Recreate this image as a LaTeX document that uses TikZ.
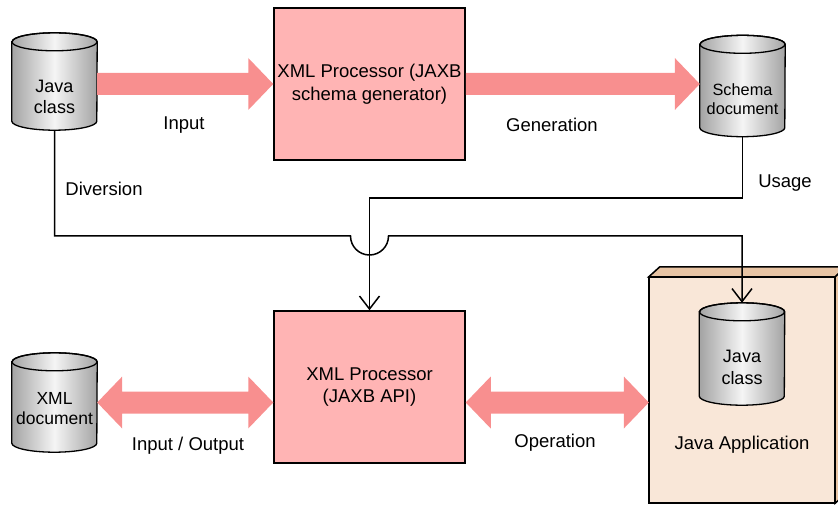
\documentclass[tikz,border=0pt]{standalone}
\usepackage{fontspec}
\setmainfont{Liberation Sans}
\usetikzlibrary{arrows.meta,calc}
\definecolor{fatc}{RGB}{248,143,143}
\definecolor{boxc}{RGB}{255,180,180}
\definecolor{appc}{RGB}{249,231,216}
\definecolor{apptop}{RGB}{232,196,164}
\newcommand\cylbody[1]{%
  \draw[line width=1.3pt, left color=black!36, right color=black!36, middle color=black!4]
    ($(#1.north west)+(0pt,-9pt)$) -- ($(#1.south west)+(0pt,9pt)$)
    arc[start angle=180,end angle=360,x radius=42.5pt,y radius=9pt]
    -- ($(#1.north east)+(0pt,-9pt)$)
    arc[start angle=0,end angle=180,x radius=42.5pt,y radius=9pt] -- cycle;
  \draw[line width=1.3pt] ($(#1.north)+(0pt,-9pt)$) ellipse[x radius=42.5pt,y radius=9pt];
}
\newcommand\fatR[2]{%
  \fill[fat] let \p1=(#1), \p2=(#2) in
    (\x1,\y1+11pt) -- (\x2-25pt,\y1+11pt) -- (\x2-25pt,\y1+26pt) -- (\x2,\y1)
    -- (\x2-25pt,\y1-26pt) -- (\x2-25pt,\y1-11pt) -- (\x1,\y1-11pt) -- cycle;
}
\newcommand\fatLR[2]{%
  \fill[fat] let \p1=(#1), \p2=(#2) in
    (\x1,\y1) -- (\x1+25pt,\y1+26pt) -- (\x1+25pt,\y1+11pt) -- (\x2-25pt,\y1+11pt)
    -- (\x2-25pt,\y1+26pt) -- (\x2,\y1) -- (\x2-25pt,\y1-26pt) -- (\x2-25pt,\y1-11pt)
    -- (\x1+25pt,\y1-11pt) -- (\x1+25pt,\y1-26pt) -- cycle;
}
\begin{document}
\begin{tikzpicture}[x=1pt,y=-1pt,
  lbl/.style={font=\fontsize{18.5}{22}\selectfont,inner sep=0pt},
  cyltext/.style={align=center,inner sep=0pt,font=\fontsize{18}{21.5}\selectfont},
  proc/.style={draw=black,line width=1.5pt,fill=boxc,minimum width=191pt,minimum height=152pt,
    align=center,font=\fontsize{18.5}{22.5}\selectfont,inner sep=0pt},
  cylnode/.style={minimum width=85pt,minimum height=#1,inner sep=0pt},
  conn/.style={line width=1.5pt},
  tip/.style={-{Straight Barb[length=13pt,width=20pt]}},
  fat/.style={fill=fatc},
]
\useasboundingbox (0,0) rectangle (838,505);

% Java application box
\node[minimum width=186pt,minimum height=226pt,inner sep=0pt] (app) at (742,390) {};
\filldraw[fill=apptop,line width=1.5pt] (app.north west) -- ++(11pt,10pt)
  -- ($(app.north east)+(11pt,10pt)$) -- (app.north east) -- cycle;
\filldraw[fill=apptop,line width=1.5pt] (app.north east) -- ++(11pt,10pt)
  -- ($(app.south east)+(11pt,10pt)$) -- (app.south east) -- cycle;
\filldraw[fill=appc,line width=1.5pt] (app.north west) rectangle (app.south east);

% processors
\node[proc] (gen) at (369.5,84) {XML Processor (JAXB\\schema generator)};
\node[proc] (api) at (369.5,387) {XML Processor\\(JAXB API)};

% cylinders
\node[cylnode=97pt] (jc1) at (54.5,81.5) {};
\cylbody{jc1}
\node[cyltext] (jc1t) at (54.5,97) {Java\\class};

\node[cylnode=101pt] (sch) at (742.5,86) {};
\cylbody{sch}
\node[cyltext,font=\fontsize{16.3}{19}\selectfont] (scht) at (742.5,99) {Schema\\document};

\node[cylnode=99pt] (xml) at (54.5,402.5) {};
\cylbody{xml}
\node[cyltext,font=\fontsize{17.5}{20}\selectfont] (xmlt) at (54.5,409) {XML\\document};

\node[cylnode=102pt] (jc2) at (742,354) {};
\cylbody{jc2}
\node[cyltext] (jc2t) at (742,367.5) {Java\\class};

% fat arrows
\fatR{jc1.east |- gen.west}{gen.west}
\fatR{gen.east}{sch.west |- gen.east}
\fatLR{xml.east}{api.west |- xml.east}
\fatLR{api.east |- xml.east}{app.west |- xml.east}

% connectors
\coordinate (jl) at (350.5,236);
\coordinate (u) at (369.5,198);
\draw[conn,tip] (jc1.south) |- (jl) arc[start angle=180,end angle=360,radius=19pt] -| (jc2.north);
\draw[conn,tip] (sch.south) |- (u) -- (api.north);

% labels
\node[lbl] (lin) at (184,125) {Input};
\node[lbl] (lgen) at (552,125) {Generation};
\node[lbl] (ldiv) at (104,189) {Diversion};
\node[lbl] (luse) at (785,183) {Usage};
\node[lbl] (lio) at (188,446) {Input / Output};
\node[lbl] (lop) at (555,443) {Operation};
\node[lbl] (lapp) at (742,445) {Java Application};
\end{tikzpicture}
\end{document}
